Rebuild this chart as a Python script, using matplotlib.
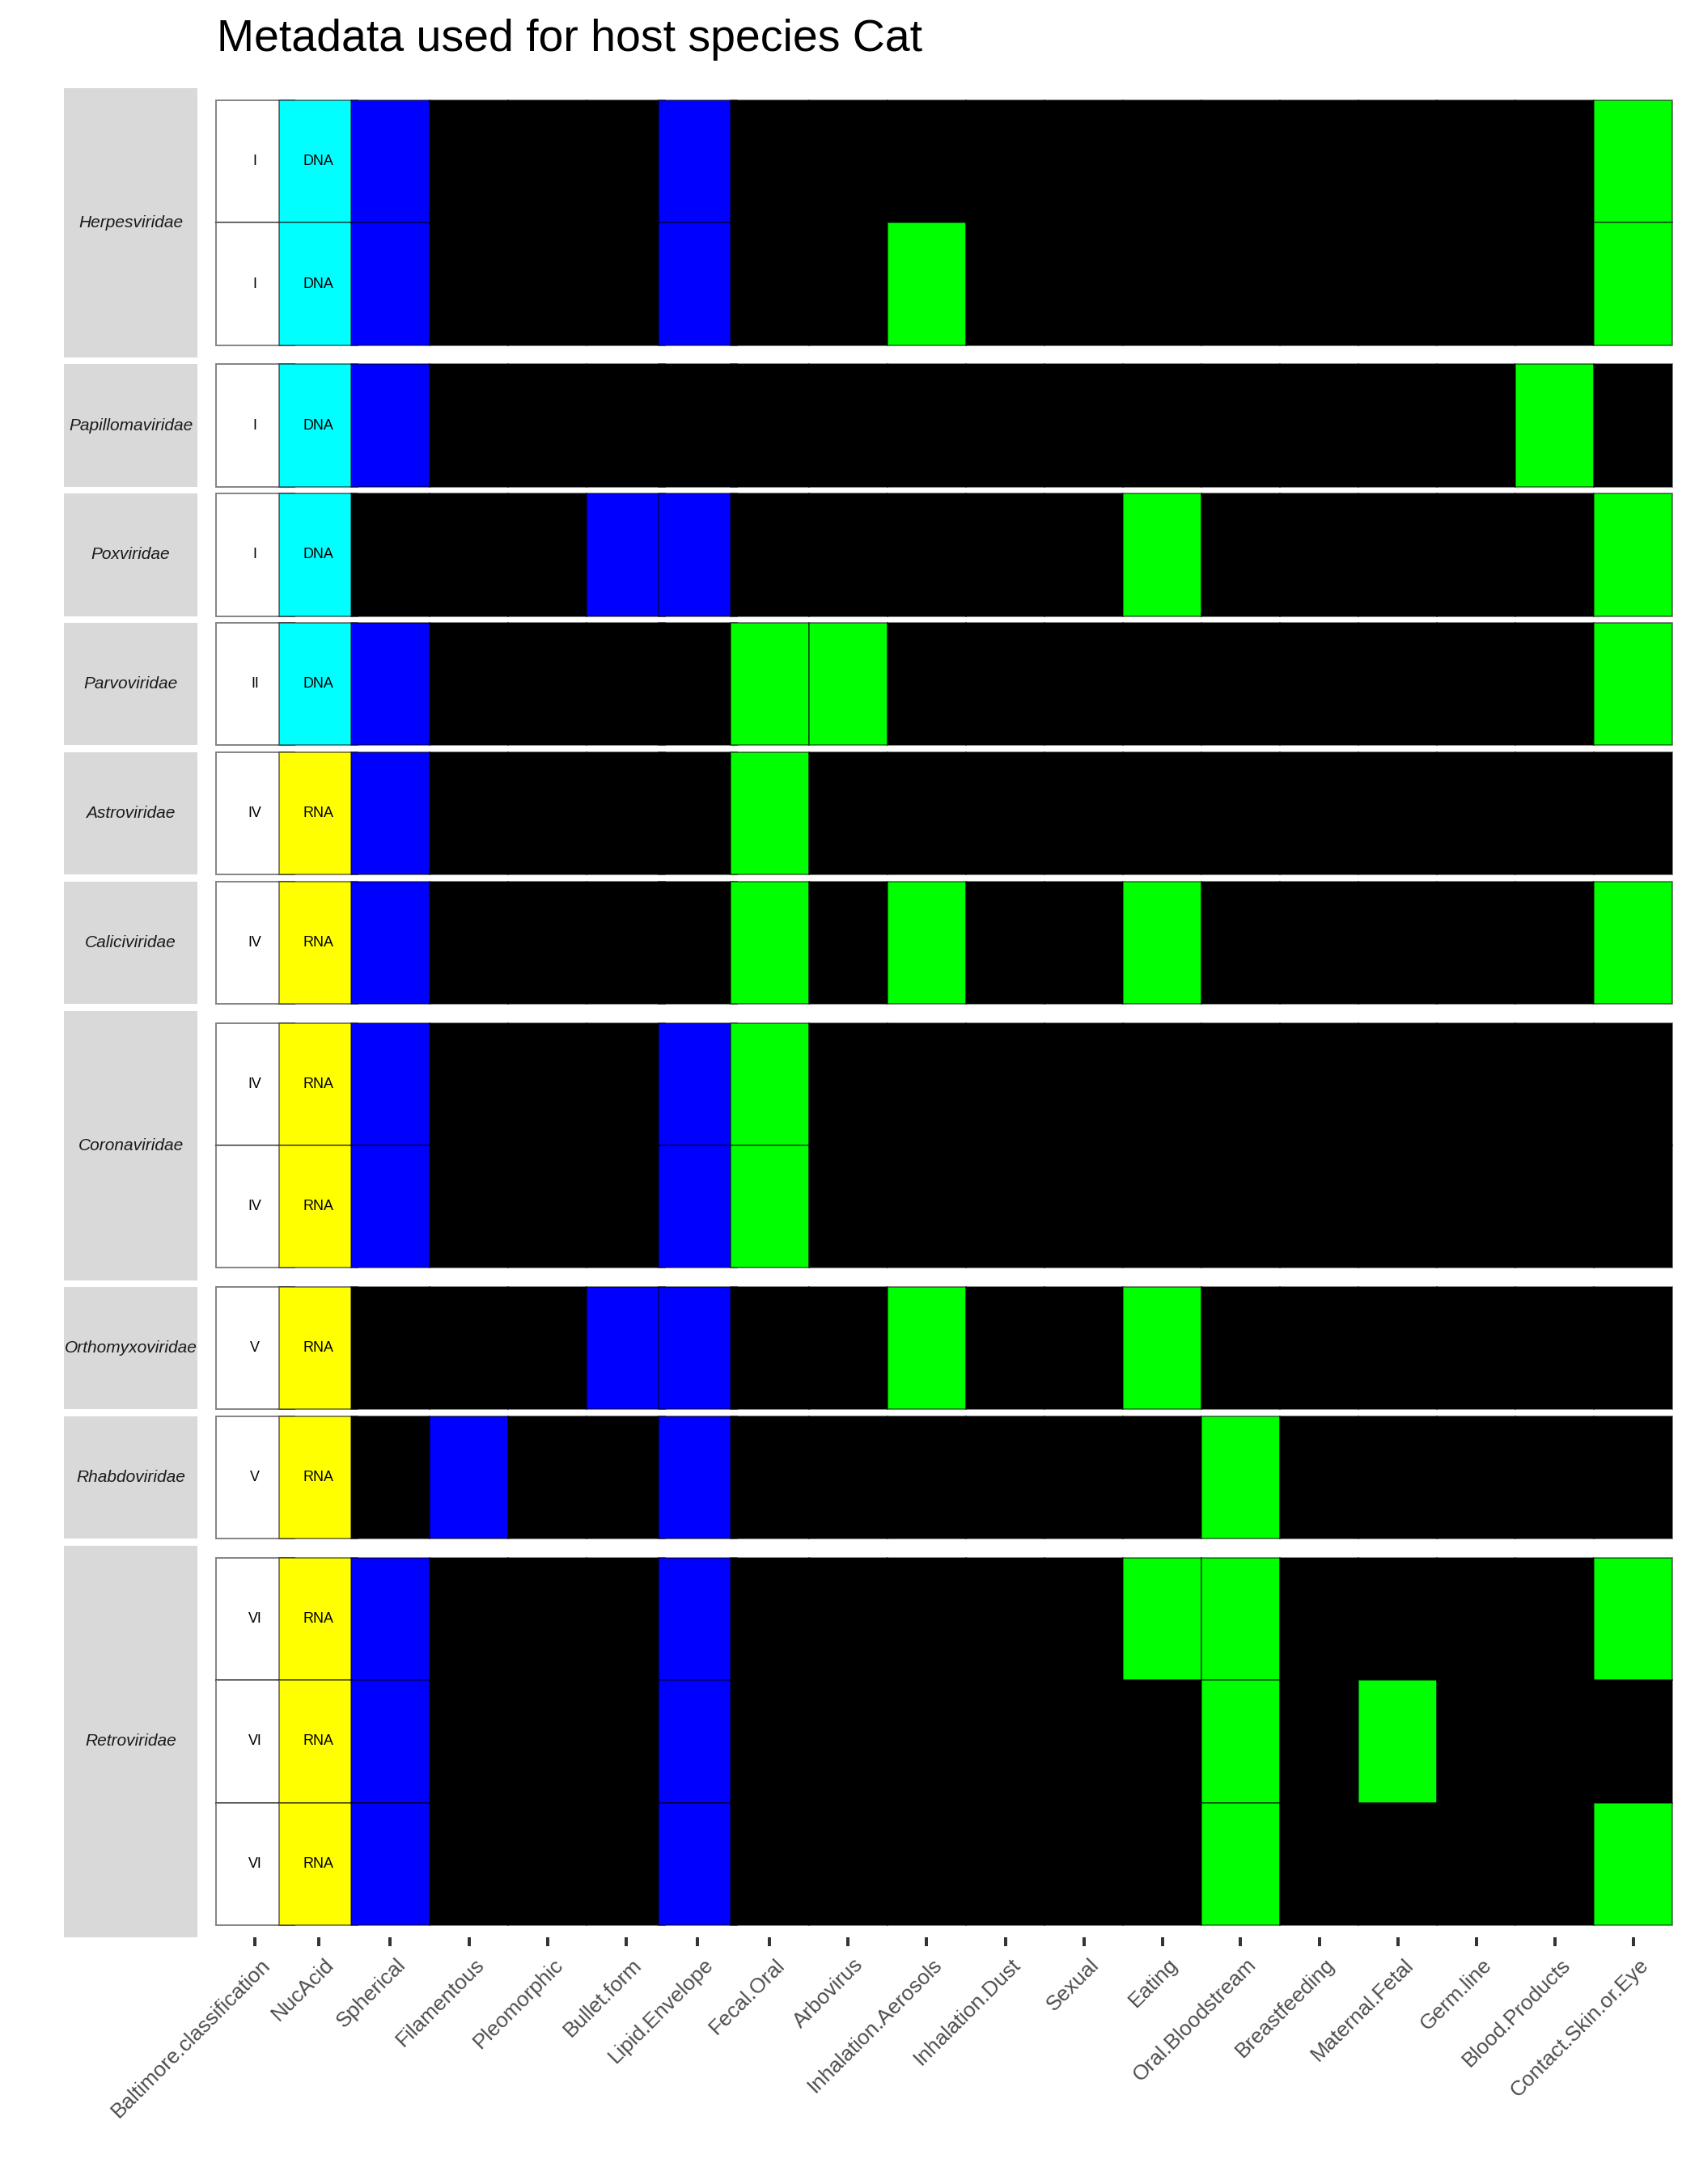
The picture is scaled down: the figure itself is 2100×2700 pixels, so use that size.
import matplotlib
matplotlib.use("Agg")
import matplotlib.pyplot as plt
from matplotlib.transforms import ScaledTranslation

plt.rcParams['font.family'] = ['Liberation Sans', 'DejaVu Sans']

# ---------------- data ----------------
title = "Metadata used for host species Cat"

columns = ["Baltimore.classification", "NucAcid", "Spherical", "Filamentous",
           "Pleomorphic", "Bullet.form", "Lipid.Envelope", "Fecal.Oral", "Arbovirus",
           "Inhalation.Aerosols", "Inhalation.Dust", "Sexual", "Eating",
           "Oral.Bloodstream", "Breastfeeding", "Maternal.Fetal", "Germ.line",
           "Blood.Products", "Contact.Skin.or.Eye"]

families = ["Herpesviridae", "Papillomaviridae", "Poxviridae", "Parvoviridae",
            "Astroviridae", "Caliciviridae", "Coronaviridae", "Orthomyxoviridae",
            "Rhabdoviridae", "Retroviridae"]

row_family = ["Herpesviridae", "Herpesviridae", "Papillomaviridae", "Poxviridae",
              "Parvoviridae", "Astroviridae", "Caliciviridae", "Coronaviridae",
              "Coronaviridae", "Orthomyxoviridae", "Rhabdoviridae", "Retroviridae",
              "Retroviridae", "Retroviridae"]

baltimore = ["I", "I", "I", "I", "II", "IV", "IV", "IV", "IV", "V", "V", "VI", "VI", "VI"]
nuc_acid = ["DNA", "DNA", "DNA", "DNA", "DNA", "RNA", "RNA", "RNA", "RNA", "RNA",
            "RNA", "RNA", "RNA", "RNA"]

# morphology (blue when 1)
spherical = [1, 1, 1, 0, 1, 1, 1, 1, 1, 0, 0, 1, 1, 1]
filamentous = [0, 0, 0, 0, 0, 0, 0, 0, 0, 0, 1, 0, 0, 0]
pleomorphic = [0, 0, 0, 0, 0, 0, 0, 0, 0, 0, 0, 0, 0, 0]
bullet_form = [0, 0, 0, 1, 0, 0, 0, 0, 0, 1, 0, 0, 0, 0]
lipid_envelope = [1, 1, 0, 1, 0, 0, 0, 1, 1, 1, 1, 1, 1, 1]

# transmission routes (green when 1)
fecal_oral = [0, 0, 0, 0, 1, 1, 1, 1, 1, 0, 0, 0, 0, 0]
arbovirus = [0, 0, 0, 0, 1, 0, 0, 0, 0, 0, 0, 0, 0, 0]
inhalation_aerosols = [0, 1, 0, 0, 0, 0, 1, 0, 0, 1, 0, 0, 0, 0]
inhalation_dust = [0, 0, 0, 0, 0, 0, 0, 0, 0, 0, 0, 0, 0, 0]
sexual = [0, 0, 0, 0, 0, 0, 0, 0, 0, 0, 0, 0, 0, 0]
eating = [0, 0, 0, 1, 0, 0, 1, 0, 0, 1, 0, 1, 0, 0]
oral_bloodstream = [0, 0, 0, 0, 0, 0, 0, 0, 0, 0, 1, 1, 1, 1]
breastfeeding = [0, 0, 0, 0, 0, 0, 0, 0, 0, 0, 0, 0, 0, 0]
maternal_fetal = [0, 0, 0, 0, 0, 0, 0, 0, 0, 0, 0, 0, 1, 0]
germ_line = [0, 0, 0, 0, 0, 0, 0, 0, 0, 0, 0, 0, 0, 0]
blood_products = [0, 0, 1, 0, 0, 0, 0, 0, 0, 0, 0, 0, 0, 0]
contact_skin_or_eye = [1, 1, 0, 1, 1, 0, 1, 0, 0, 0, 0, 1, 0, 1]

morphology = [spherical, filamentous, pleomorphic, bullet_form, lipid_envelope]
transmission = [fecal_oral, arbovirus, inhalation_aerosols, inhalation_dust, sexual,
                eating, oral_bloodstream, breastfeeding, maternal_fetal, germ_line,
                blood_products, contact_skin_or_eye]

# ---------------- layout / style ----------------
col_pos = [0.5, 1.31, 2.225, 3.23, 4.23, 5.23, 6.145, 7.06, 8.06, 9.06, 10.065,
           11.065, 12.065, 13.065, 14.07, 15.07, 16.07, 17.07, 18.07]
x_max = 18.57

nuc_colors = {"DNA": "#00FFFF", "RNA": "#FFFF00"}
on_morph, on_trans, off_col = "#0000FF", "#00FF00", "#000000"
edge = (0, 0, 0, 0.5)
lw = 0.45

W, H = 2100, 2700
unit_px = 151.3
gap_px = 8.55
top_px = 109.0
panel_l, panel_r = 266.6, 2067.3
strip_l, strip_r = 78.9, 244.3

fig = plt.figure(figsize=(7, 9), dpi=300)
fig.patch.set_facecolor("white")

fig.text(268.5 / W, 1 - 63.3 / H, title, fontsize=13.3, ha="left", va="baseline",
         color="black")

cur = top_px
axes = []
for fam in families:
    rows = [i for i, f in enumerate(row_family) if f == fam]
    n = len(rows)
    h_units = n + 0.2 if n > 1 else n
    hpx = h_units * unit_px
    rect = [panel_l / W, 1 - (cur + hpx) / H, (panel_r - panel_l) / W, hpx / H]
    ax = fig.add_axes(rect)
    ax.set_facecolor("none")
    for s in ax.spines.values():
        s.set_visible(False)
    pad = 0.1 if n > 1 else 0.0
    ax.set_xlim(0, x_max)
    ax.set_ylim(n + 0.5 + pad, 0.5 - pad)
    ax.set_yticks([])

    ypos = list(range(1, n + 1))
    bottoms = [y - 0.5 for y in ypos]
    # Baltimore column
    ax.bar([col_pos[0]] * n, [1] * n, width=1, bottom=bottoms,
           color="white", edgecolor=edge, linewidth=lw, clip_on=False)
    # Nucleic acid column
    ax.bar([col_pos[1]] * n, [1] * n, width=1, bottom=bottoms,
           color=[nuc_colors[nuc_acid[r]] for r in rows], edgecolor=edge,
           linewidth=lw, clip_on=False)
    # morphology
    for j, series in enumerate(morphology):
        ax.bar([col_pos[2 + j]] * n, [1] * n, width=1, bottom=bottoms,
               color=[on_morph if series[r] else off_col for r in rows],
               edgecolor=edge, linewidth=lw, clip_on=False)
    # transmission
    for j, series in enumerate(transmission):
        ax.bar([col_pos[7 + j]] * n, [1] * n, width=1, bottom=bottoms,
               color=[on_trans if series[r] else off_col for r in rows],
               edgecolor=edge, linewidth=lw, clip_on=False)
    for y, r in zip(ypos, rows):
        ax.text(col_pos[0], y, baltimore[r], ha="center", va="center",
                fontsize=4.3, color="black")
        ax.text(col_pos[1], y, nuc_acid[r], ha="center", va="center",
                fontsize=4.3, color="black")

    # strip
    sax = fig.add_axes([strip_l / W, 1 - (cur + hpx) / H, (strip_r - strip_l) / W,
                        hpx / H])
    sax.set_facecolor("#D9D9D9")
    for s in sax.spines.values():
        s.set_visible(False)
    sax.set_xticks([])
    sax.set_yticks([])
    sax.text(0.5, 0.5, fam, transform=sax.transAxes, ha="center", va="center",
             fontsize=5.0, style="italic", color="#1A1A1A")

    ax.set_xticks([])
    axes.append(ax)
    cur += hpx + gap_px

ax = axes[-1]
ax.set_xticks(col_pos)
ax.set_xticklabels(columns, rotation=45, ha="right", va="top",
                   rotation_mode="anchor", fontsize=6.3, color="#4D4D4D")
ax.tick_params(axis="x", length=2.64, width=0.95, color="#333333", pad=2.6,
               direction="out")
offset = ScaledTranslation(7 / 300, 0, fig.dpi_scale_trans)
for lab in ax.get_xticklabels():
    lab.set_transform(lab.get_transform() + offset)

fig.savefig("out.png", dpi=300, facecolor="white")
